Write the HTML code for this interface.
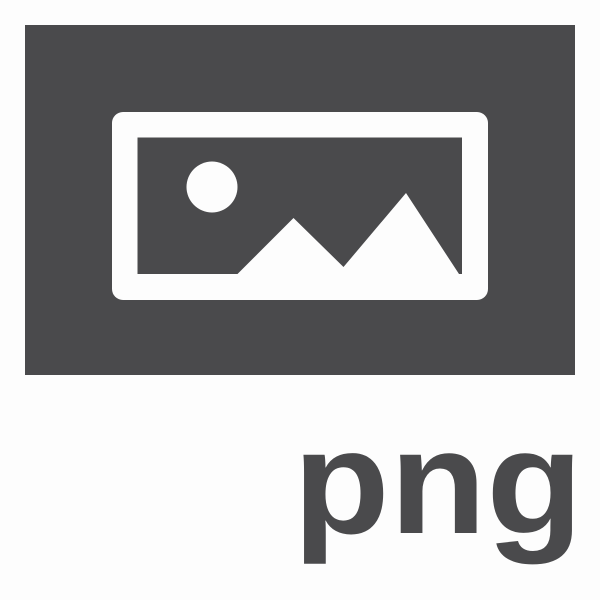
<!DOCTYPE html>
<html>
<head>
<meta charset="utf-8">
<style>
  html, body { margin: 0; padding: 0; background: #fdfdfd; }
  svg { display: block; }
</style>
</head>
<body>
<svg width="600" height="600" viewBox="0 0 600 600">
  <rect x="0" y="0" width="600" height="600" fill="#fdfdfd"/>
  <rect x="25" y="25" width="550" height="350" fill="#4a4a4c"/>
  <rect x="112" y="112" width="376" height="188" rx="11" ry="11" fill="#fdfdfd"/>
  <rect x="137.5" y="137.5" width="324.5" height="136.5" fill="#4a4a4c"/>
  <circle cx="212" cy="187" r="25.5" fill="#fdfdfd"/>
  <polygon points="237.5,274 293.5,218 343.5,267 406,193 459,274" fill="#fdfdfd"/>
  <text x="293" y="533" font-family="Liberation Sans, Arial, sans-serif" font-weight="bold" font-size="148" fill="#4a4a4c" textLength="290" lengthAdjust="spacingAndGlyphs">png</text>
</svg>
</body>
</html>
